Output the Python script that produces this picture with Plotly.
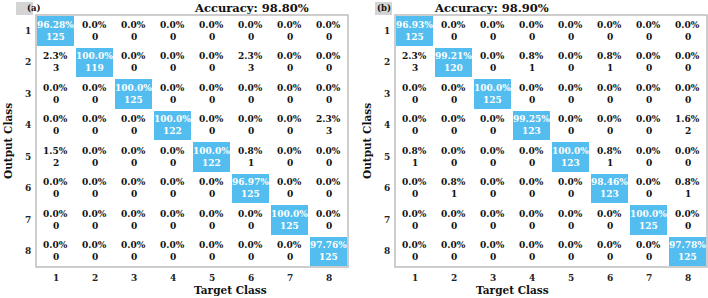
import plotly.graph_objects as go

W, H = 708, 298
classes = ["1", "2", "3", "4", "5", "6", "7", "8"]

# Panel (a): counts and percentages, rows = Output Class, cols = Target Class
counts_a = [
    [125, 0, 0, 0, 0, 0, 0, 0],
    [3, 119, 0, 0, 0, 3, 0, 0],
    [0, 0, 125, 0, 0, 0, 0, 0],
    [0, 0, 0, 122, 0, 0, 0, 3],
    [2, 0, 0, 0, 122, 1, 0, 0],
    [0, 0, 0, 0, 0, 125, 0, 0],
    [0, 0, 0, 0, 0, 0, 125, 0],
    [0, 0, 0, 0, 0, 0, 0, 125],
]
pct_a = [
    [96.28, 0.0, 0.0, 0.0, 0.0, 0.0, 0.0, 0.0],
    [2.3, 100.0, 0.0, 0.0, 0.0, 2.3, 0.0, 0.0],
    [0.0, 0.0, 100.0, 0.0, 0.0, 0.0, 0.0, 0.0],
    [0.0, 0.0, 0.0, 100.0, 0.0, 0.0, 0.0, 2.3],
    [1.5, 0.0, 0.0, 0.0, 100.0, 0.8, 0.0, 0.0],
    [0.0, 0.0, 0.0, 0.0, 0.0, 96.97, 0.0, 0.0],
    [0.0, 0.0, 0.0, 0.0, 0.0, 0.0, 100.0, 0.0],
    [0.0, 0.0, 0.0, 0.0, 0.0, 0.0, 0.0, 97.76],
]
acc_a = "98.80%"

# Panel (b)
counts_b = [
    [125, 0, 0, 0, 0, 0, 0, 0],
    [3, 120, 0, 1, 0, 1, 0, 0],
    [0, 0, 125, 0, 0, 0, 0, 0],
    [0, 0, 0, 123, 0, 0, 0, 2],
    [1, 0, 0, 0, 123, 1, 0, 0],
    [0, 1, 0, 0, 0, 123, 0, 1],
    [0, 0, 0, 0, 0, 0, 125, 0],
    [0, 0, 0, 0, 0, 0, 0, 125],
]
pct_b = [
    [96.93, 0.0, 0.0, 0.0, 0.0, 0.0, 0.0, 0.0],
    [2.3, 99.21, 0.0, 0.8, 0.0, 0.8, 0.0, 0.0],
    [0.0, 0.0, 100.0, 0.0, 0.0, 0.0, 0.0, 0.0],
    [0.0, 0.0, 0.0, 99.25, 0.0, 0.0, 0.0, 1.6],
    [0.8, 0.0, 0.0, 0.0, 100.0, 0.8, 0.0, 0.0],
    [0.0, 0.8, 0.0, 0.0, 0.0, 98.46, 0.0, 0.8],
    [0.0, 0.0, 0.0, 0.0, 0.0, 0.0, 100.0, 0.0],
    [0.0, 0.0, 0.0, 0.0, 0.0, 0.0, 0.0, 97.78],
]
acc_b = "98.90%"

BLUE = "#52bdee"
FONT = "DejaVu Serif"

def fmt(p, diag):
    if diag and p < 100:
        return f"{p:.2f}%"
    return f"{p:.1f}%"

panels = [
    dict(counts=counts_a, pct=pct_a, acc=acc_a, tag="(a)", x0=36, x1=348, ax="x", ay="y"),
    dict(counts=counts_b, pct=pct_b, acc=acc_b, tag="(b)", x0=395, x1=707, ax="x2", ay="y2"),
]
Y0, Y1 = 15, 267

fig = go.Figure()
annotations = []
shapes = []
pos = list(range(1, len(classes) + 1))

for i, p in enumerate(panels):
    n = len(classes)
    z = [[1 if r == c else 0 for c in range(n)] for r in range(n)]
    fig.add_trace(go.Heatmap(
        z=z, x=pos, y=pos, xaxis=p["ax"], yaxis=p["ay"],
        colorscale=[[0, "white"], [1, BLUE]], showscale=False,
        xgap=2, ygap=2, hoverinfo="skip",
    ))
    for r in range(n):
        for c in range(n):
            diag = r == c
            col = "white" if diag else "#111111"
            annotations.append(dict(
                x=pos[c], y=pos[r], xref=p["ax"], yref=p["ay"], yshift=6,
                text=fmt(p['pct'][r][c], diag), showarrow=False,
                font=dict(family=FONT, size=9, color=col, weight="bold"),
            ))
            annotations.append(dict(
                x=pos[c], y=pos[r], xref=p["ax"], yref=p["ay"], yshift=-6,
                text=str(p['counts'][r][c]), showarrow=False,
                font=dict(family=FONT, size=9, color=col, weight="bold"),
            ))
    dom_x = [p["x0"] / W, p["x1"] / W]
    dom_y = [1 - Y1 / H, 1 - Y0 / H]
    suffix = "" if i == 0 else "2"
    fig.layout["xaxis" + suffix] = dict(domain=dom_x, range=[0.5, n + 0.5], showticklabels=False,
                                        showgrid=False, zeroline=False, anchor="y" + suffix)
    fig.layout["yaxis" + suffix] = dict(domain=dom_y, range=[n + 0.5, 0.5], showticklabels=False,
                                        showgrid=False, zeroline=False, anchor="x" + suffix)
    shapes.append(dict(type="rect", xref="paper", yref="paper", x0=dom_x[0], x1=dom_x[1],
                       y0=dom_y[0], y1=dom_y[1], line=dict(color="#bdbdbd", width=1.5)))
    for c in range(n):
        annotations.append(dict(x=pos[c], y=1 - 278 / H, xref=p["ax"], yref="paper",
                                text=classes[c], showarrow=False, yanchor="middle",
                                font=dict(family=FONT, size=9, color="#222", weight="bold")))
        annotations.append(dict(x=(p["x0"] - 8) / W, y=pos[c], xref="paper", yref=p["ay"],
                                text=classes[c], showarrow=False, xanchor="center",
                                font=dict(family=FONT, size=9, color="#222", weight="bold")))
    cx = (p["x0"] + p["x1"]) / 2
    annotations.append(dict(x=cx / W, y=1 - 8 / H, xref="paper", yref="paper", text="Accuracy: " + p["acc"],
                            showarrow=False, yanchor="middle",
                            font=dict(family=FONT, size=11.5, color="#111", weight="bold")))
    annotations.append(dict(x=cx / W, y=1 - 290 / H, xref="paper", yref="paper", text="Target Class",
                            showarrow=False, yanchor="middle",
                            font=dict(family=FONT, size=10.5, color="#111", weight="bold")))
    annotations.append(dict(x=(p["x0"] - 28) / W, y=1 - 141 / H, xref="paper", yref="paper", text="Output Class",
                            showarrow=False, textangle=-90, xanchor="center", yanchor="middle",
                            font=dict(family=FONT, size=10.5, color="#111", weight="bold")))
    tx0, tx1 = p["x0"] - 20, p["x0"] - 3
    shapes.append(dict(type="rect", xref="paper", yref="paper", x0=tx0 / W, x1=tx1 / W,
                       y0=1 - 15 / H, y1=1 - 2 / H, fillcolor="#d4d4d4", line=dict(width=0)))
    annotations.append(dict(x=(tx0 + tx1) / 2 / W, y=1 - 8.5 / H, xref="paper", yref="paper", text=p["tag"],
                            showarrow=False, yanchor="middle",
                            font=dict(family=FONT, size=8.5, color="#111", weight="bold")))

fig.update_layout(width=W, height=H, margin=dict(l=0, r=0, t=0, b=0),
                  paper_bgcolor="white", plot_bgcolor="white",
                  annotations=annotations, shapes=shapes, showlegend=False)
fig.write_html("out.html", config={"displayModeBar": False},
               post_script="document.body.style.margin='0';")
